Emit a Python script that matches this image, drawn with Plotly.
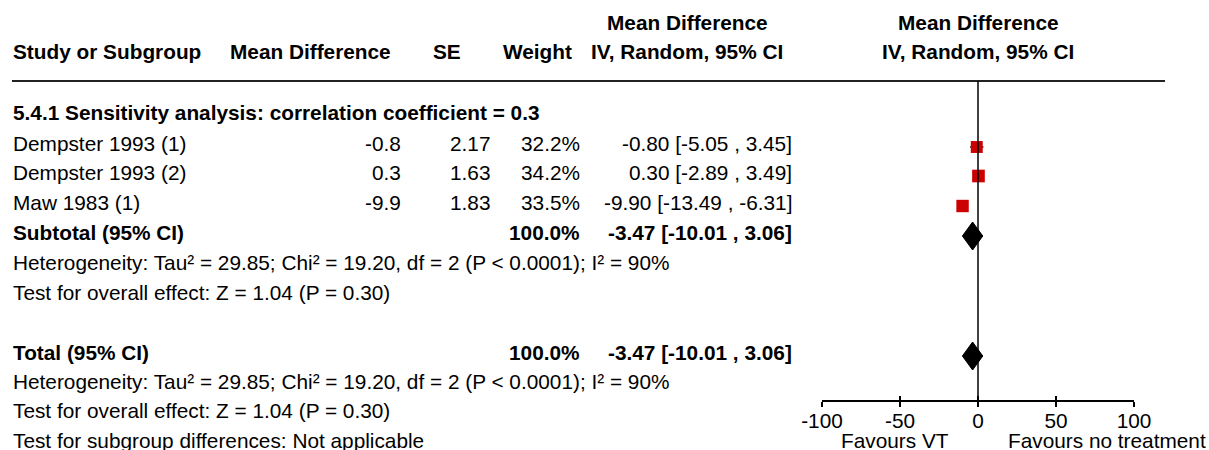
import plotly.graph_objects as go

# Data
studies = ["Dempster 1993 (1)", "Dempster 1993 (2)", "Maw 1983 (1)"]
mean_diff = [-0.8, 0.3, -9.9]
se = [2.17, 1.63, 1.83]
weight = [32.2, 34.2, 33.5]
ci_low = [-5.05, -2.89, -13.49]
ci_high = [3.45, 3.49, -6.31]

total_weight = 100.0
pooled_mean = -3.47
pooled_low = -10.01
pooled_high = 3.06

subgroup_title = "5.4.1 Sensitivity analysis: correlation coefficient = 0.3"
heterogeneity = "Heterogeneity: Tau² = 29.85; Chi² = 19.20, df = 2 (P < 0.0001); I² = 90%"
overall_test = "Test for overall effect: Z = 1.04 (P = 0.30)"
subgroup_test = "Test for subgroup differences: Not applicable"
axis_ticks = [-100, -50, 0, 50, 100]
axis_ticktext = ["-100", "-50", "0", "50", "100"]

W, H = 1209, 450
FONT = "Liberation Sans"
FS = 20.8

# row layout (pixel y, text centre)
y_title = 112
y_rows = [143, 172, 202]
y_sub = 232
y_total = 352
mark_off = 4


def px(x):
    return x / W


fig = go.Figure()
annotations = []


def txt(x, y, s, anchor="left", bold=False, size=FS):
    if bold:
        s = f"<b>{s}</b>"
    annotations.append(
        dict(
            x=px(x), y=y, xref="paper", yref="y", text=s, showarrow=False,
            xanchor=anchor, yanchor="middle", borderpad=0,
            font=dict(family=FONT, size=size, color="black"),
        )
    )


# Headers
txt(12, 51, "Study or Subgroup", bold=True)
txt(310, 51, "Mean Difference", "center", bold=True)
txt(447, 51, "SE", "center", bold=True)
txt(537, 51, "Weight", "center", bold=True)
txt(687, 22, "Mean Difference", "center", bold=True)
txt(687, 51, "IV, Random, 95% CI", "center", bold=True)
txt(978, 22, "Mean Difference", "center", bold=True)
txt(978, 51, "IV, Random, 95% CI", "center", bold=True)

txt(12, y_title, subgroup_title, bold=True)

for i, name in enumerate(studies):
    y = y_rows[i]
    txt(12, y, name)
    txt(402, y, f"{mean_diff[i]}", "right")
    txt(491, y, f"{se[i]:.2f}", "right")
    txt(581, y, f"{weight[i]:.1f}%", "right")
    txt(793, y, f"{mean_diff[i]:.2f} [{ci_low[i]:.2f} , {ci_high[i]:.2f}]", "right")

pooled_txt = f"{pooled_mean:.2f} [{pooled_low:.2f} , {pooled_high:.2f}]"
for y, label in [(y_sub, "Subtotal (95% CI)"), (y_total, "Total (95% CI)")]:
    txt(12, y, label, bold=True)
    txt(581, y, f"{total_weight:.1f}%", "right", bold=True)
    txt(793, y, pooled_txt, "right", bold=True)

txt(12, 262, heterogeneity)
txt(12, 292, overall_test)
txt(12, 381, heterogeneity)
txt(12, 410, overall_test)
txt(12, 440, subgroup_test)

txt(895, 440, "Favours VT", "center")
txt(1107, 440, "Favours no treatment", "center")

# study squares with CI whiskers as error bars
fig.add_trace(
    go.Scatter(
        x=mean_diff, y=[y + mark_off for y in y_rows], mode="markers",
        marker=dict(symbol="square", size=[w * 0.37 for w in weight], color="#CC0000",
                    opacity=1, line=dict(width=0)),
        error_x=dict(type="data", symmetric=False,
                     array=[h - m for h, m in zip(ci_high, mean_diff)],
                     arrayminus=[m - l for m, l in zip(mean_diff, ci_low)],
                     color="black", thickness=1.5, width=0),
        hoverinfo="skip", showlegend=False,
    )
)

# pooled diamonds
for yc in [y_sub + mark_off, y_total + mark_off]:
    fig.add_trace(
        go.Scatter(
            x=[pooled_low, pooled_mean, pooled_high, pooled_mean, pooled_low],
            y=[yc, yc - 14, yc, yc + 14, yc], mode="lines", fill="toself",
            fillcolor="black", line=dict(color="black", width=1),
            hoverinfo="skip", showlegend=False,
        )
    )

# invisible trace to keep the upper tick axis alive
fig.add_trace(go.Scatter(x=[0], y=[0], xaxis="x2", mode="markers",
                         marker=dict(opacity=0), hoverinfo="skip", showlegend=False))

shapes = [
    dict(type="line", xref="paper", yref="y", x0=px(12), x1=px(1165), y0=81, y1=81,
         line=dict(color="#222", width=2)),
    dict(type="line", xref="x", yref="y", x0=0, x1=0, y0=81, y1=401,
         line=dict(color="black", width=1.5)),
]

axis_pos = 1 - 401 / H
dom = [px(822), px(1134)]
fig.update_layout(
    width=W, height=H, margin=dict(l=0, r=0, t=0, b=0, pad=0, autoexpand=False),
    paper_bgcolor="white", plot_bgcolor="white",
    annotations=annotations, shapes=shapes,
    xaxis=dict(range=[-100, 100], domain=dom, anchor="free", position=axis_pos,
               showline=True, linecolor="black", linewidth=1.5, ticks="outside",
               ticklen=5, tickwidth=1.5, tickcolor="black", tickvals=axis_ticks,
               ticktext=axis_ticktext, ticklabelstandoff=-4,
               showgrid=False, zeroline=False, automargin=False,
               tickfont=dict(family=FONT, size=FS, color="black")),
    xaxis2=dict(range=[-100, 100], domain=dom, anchor="free", position=axis_pos,
                overlaying="x", ticks="inside", ticklen=5, tickwidth=1.5,
                tickcolor="black", tickvals=axis_ticks, showticklabels=False,
                showline=False, showgrid=False, zeroline=False, automargin=False),
    yaxis=dict(range=[H, 0], domain=[0, 1], visible=False, automargin=False),
)

fig.write_html("out.html", config={"displayModeBar": False},
               post_script="document.body.style.margin='0';")
